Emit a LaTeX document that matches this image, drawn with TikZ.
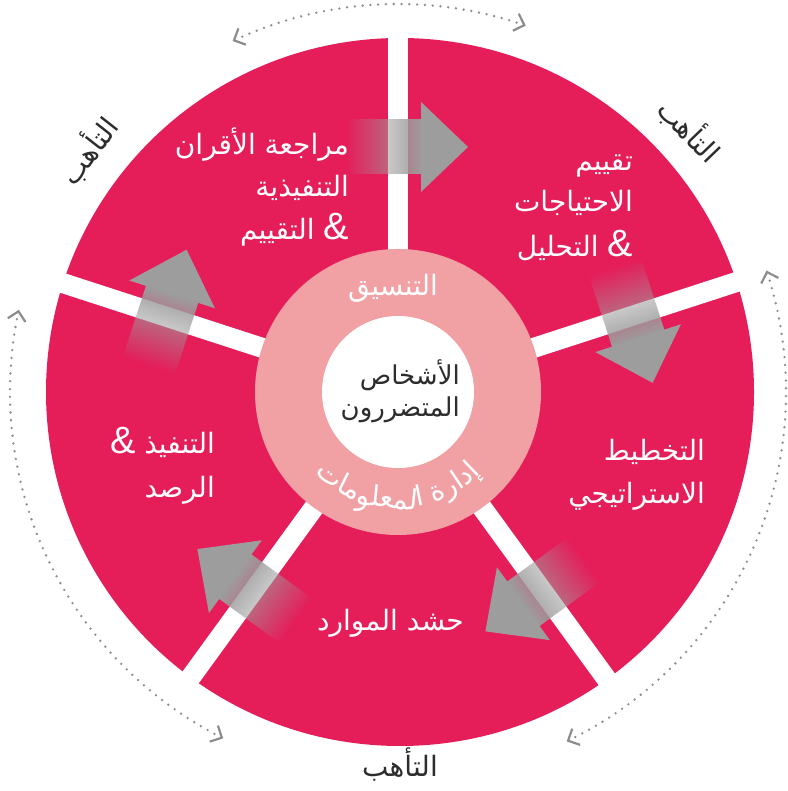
\documentclass[tikz,border=0pt]{standalone}
\usepackage{fontspec}
\usetikzlibrary{calc,fadings}
\TeXXeTstate=1
\newfontfamily\arabicfont[Script=Arabic]{DejaVu Sans}
\newfontfamily\ampfont{Liberation Sans}

\definecolor{sectorpink}{RGB}{229,30,90}
\definecolor{ringpink}{RGB}{241,160,164}
\definecolor{arrowgray}{RGB}{157,157,157}
\definecolor{dotgray}{RGB}{140,140,140}
\definecolor{labeldark}{RGB}{45,45,45}

\tikzfading[name=tailfade, left color=transparent!100, right color=transparent!0]

\newcommand\rtltext[1]{\beginR#1\endR}
\newcommand\ampsign{{\ampfont\fontsize{38}{40}\selectfont\&}}
\newcommand\sectorfont{\arabicfont\fontsize{28}{32}\selectfont}
\newcommand\hubfont{\arabicfont\fontsize{26}{30}\selectfont}
\newcommand\ringfont{\arabicfont\fontsize{28}{32}\selectfont}
\newcommand\ringr{116}
\newlength\piecewd
\newlength\wordgap
\newlength\ringtotal

\tikzset{
  sectortext/.style={text=white, font=\sectorfont, inner sep=0pt},
  ringtext/.style={text=white, font=\ringfont, inner sep=0pt},
  hubtext/.style={text=labeldark, font=\hubfont, inner sep=0pt},
  phaselabel/.style={text=labeldark, font=\sectorfont, inner sep=0pt},
  gapline/.style={white, line width=20pt},
  dotarc/.style={dotgray, line width=2.6pt, line cap=round, dash pattern=on 0pt off 7.8pt},
  chevron/.style={dotgray, line width=2.2pt},
}

% grey flow arrow crossing the gap at angle #1, pointing clockwise
\newcommand\flowarrow[1]{%
  \begin{scope}[transform canvas={shift={({398+245*cos(#1)},{399+245*sin(#1)})}, rotate=#1-90}]
    \fill[arrowgray, path fading=tailfade] (-52,-27.5) rectangle (24,27.5);
    \fill[arrowgray] (23,45) -- (70,0) -- (23,-45) -- cycle;
  \end{scope}}

% open arrow head at the end of a dotted arc: #1 angle, #2 = 1 anticlockwise, -1 clockwise
\newcommand\arcchevron[2]{%
  \begin{scope}[shift={({398+388*cos(#1)},{399+388*sin(#1)})}, rotate={#1+90*(#2)}]
    \draw[chevron] (-9,9) -- (0,0) -- (-9,-9);
  \end{scope}}

% angles of the pieces of a word set along the bottom of the ring
\newcommand\measureword[2]{%
  \foreach \pc [count=\k] in {#2}{%
    \settowidth\piecewd{\ringfont\pc}%
    \pgfmathsetmacro\midang{\curang+deg(\piecewd/2/\ringr)}%
    \expandafter\xdef\csname #1ang\k\endcsname{\midang}%
    \pgfmathsetmacro\nextang{\curang+deg(\piecewd/\ringr)}%
    \global\let\curang\nextang
  }}
\newcommand\computeringangles{%
  \settowidth\ringtotal{\ringfont إدارة المعلومات}%
  \settowidth\wordgap{\ringfont\ }%
  \pgfmathsetmacro\startang{270-deg(\ringtotal/2/\ringr)}%
  \global\let\curang\startang
  \measureword{infoA}{ت,ما,لمعلو,ا}%
  \pgfmathsetmacro\nextang{\curang+deg(\wordgap/\ringr)}%
  \global\let\curang\nextang
  \measureword{infoB}{ة,ر,ا,د,إ}}

% draws the pieces of a word at the stored angles
\newcommand\ringword[2]{%
  \foreach \pc [count=\k] in {#2}{%
    \pgfmathsetmacro\pa{\csname #1ang\k\endcsname}%
    \node[ringtext, anchor=base, rotate=\pa+90] (#1\k)
      at ({398+\ringr*cos(\pa)},{399+\ringr*sin(\pa)}) {\pc};
  }}

\begin{document}
\computeringangles
\begin{tikzpicture}[x=1pt,y=1pt]
\useasboundingbox (0,0) rectangle (787,791);
\coordinate (C) at (398,399);

% wheel of five sectors
\fill[sectorpink] (400,399) circle[radius=354];
\foreach \g in {90,18,-54,-126,162}
  \draw[gapline] (C) -- ++(\g:370);
\fill[ringpink] (C) circle[radius=143];
\fill[white] (C) circle[radius=76];

% flow arrows between sectors
\foreach \g in {90,18,-54,-126,162} { \flowarrow{\g} }

% sector captions
\node[sectortext, anchor=base east] (peerA) at (349,636) {\rtltext{مراجعة الأقران}};
\node[sectortext, anchor=base east] (peerB) at (349,594) {\rtltext{التنفيذية}};
\node[sectortext, anchor=base east] (peerC) at (349,551) {\rtltext{\ampsign{} التقييم}};

\node[sectortext, anchor=base east] (needsA) at (633,620) {\rtltext{تقييم}};
\node[sectortext, anchor=base east] (needsB) at (633,579) {\rtltext{الاحتياجات}};
\node[sectortext, anchor=base east] (needsC) at (633,534) {\rtltext{\ampsign{} التحليل}};

\node[sectortext, anchor=base east] (planA) at (705,330) {\rtltext{التخطيط}};
\node[sectortext, anchor=base east] (planB) at (705,287) {\rtltext{الاستراتيجي}};

\node[sectortext, anchor=base east] (resources) at (464,160) {\rtltext{حشد الموارد}};

\node[sectortext, anchor=base east] (implA) at (215,337) {\rtltext{التنفيذ \ampsign}};
\node[sectortext, anchor=base east] (implB) at (215,293) {\rtltext{الرصد}};

% hub
\node[hubtext, anchor=base east] (hubA) at (460,406) {\rtltext{الأشخاص}};
\node[hubtext, anchor=base east] (hubB) at (460,374) {\rtltext{المتضررون}};

% ring captions
\node[ringtext, anchor=base] (coord) at (393,495) {\rtltext{التنسيق}};
\ringword{infoA}{ت,ما,لمعلو,ا}
\ringword{infoB}{ة,ر,ا,د,إ}

% preparedness labels and dotted arcs
\node[phaselabel, rotate=52] (prepA) at (88,641) {\rtltext{التأهب}};
\node[phaselabel, rotate=-46] (prepB) at (690,661) {\rtltext{التأهب}};
\node[phaselabel, anchor=base] (prepC) at (400,14) {\rtltext{التأهب}};

\draw[dotarc] ($(C)+(72.2:388)$) arc[start angle=72.2, end angle=113.8, radius=388];
\draw[dotarc] ($(C)+(-62.8:388)$) arc[start angle=-62.8, end angle=16.8, radius=388];
\draw[dotarc] ($(C)+(169.2:388)$) arc[start angle=169.2, end angle=241.8, radius=388];
\arcchevron{71}{-1}
\arcchevron{115}{1}
\arcchevron{18}{1}
\arcchevron{-64}{-1}
\arcchevron{168}{-1}
\arcchevron{243}{1}
\end{tikzpicture}
\end{document}
